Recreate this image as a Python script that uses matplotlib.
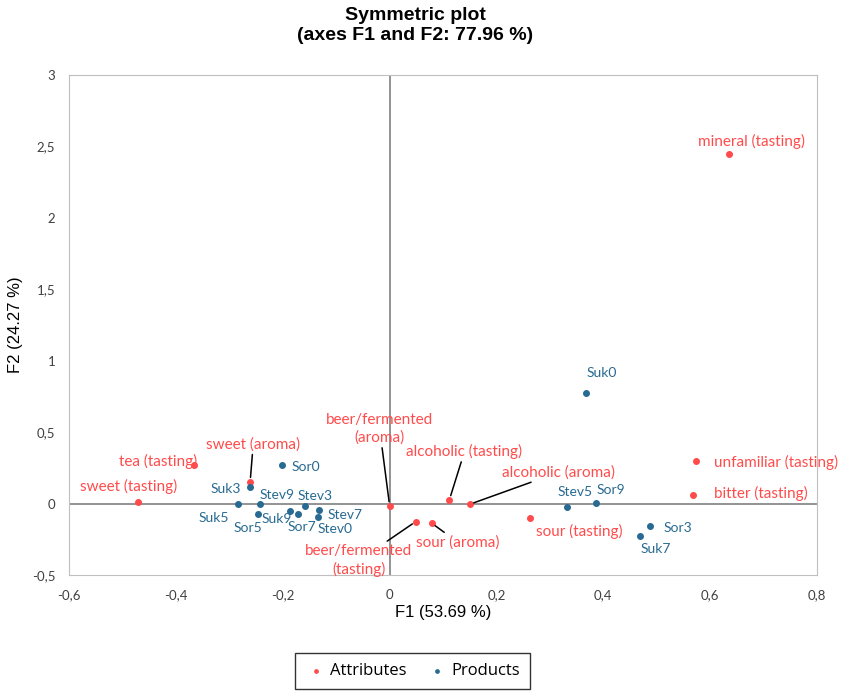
import matplotlib.pyplot as plt

# Attributes (red)
attr_names = [
    "mineral (tasting)", "unfamiliar (tasting)", "bitter (tasting)",
    "sweet (tasting)", "tea (tasting)", "sweet (aroma)",
    "beer/fermented\n(aroma)", "beer/fermented\n(tasting)", "sour (aroma)",
    "alcoholic (tasting)", "alcoholic (aroma)", "sour (tasting)",
]
attr_f1 = [0.636, 0.574, 0.568, -0.471, -0.366, -0.261,
           0.000, 0.049, 0.079, 0.112, 0.150, 0.263]
attr_f2 = [2.447, 0.300, 0.063, 0.010, 0.267, 0.154,
           -0.016, -0.126, -0.138, 0.028, -0.005, -0.103]

# Products (blue)
prod_names = ["Suk0", "Stev5", "Sor9", "Sor3", "Suk7", "Sor0", "Suk3", "Suk5",
              "Stev9", "Sor5", "Suk9", "Sor7", "Stev3", "Stev7", "Stev0"]
prod_f1 = [0.368, 0.332, 0.386, 0.488, 0.469, -0.201, -0.261, -0.284,
           -0.243, -0.246, -0.186, -0.171, -0.159, -0.132, -0.134]
prod_f2 = [0.774, -0.026, 0.005, -0.159, -0.229, 0.267, 0.119, -0.005,
           -0.005, -0.072, -0.049, -0.072, -0.016, -0.044, -0.093]

x_ticks = [-0.6, -0.4, -0.2, 0, 0.2, 0.4, 0.6, 0.8]
y_ticks = [-0.5, 0, 0.5, 1, 1.5, 2, 2.5, 3]

# label placement: offset of the label centre from its point, in pixels,
# and whether a leader line is drawn
attr_offsets = [(22, 13), (80, -2), (68, 1), (-9, 16), (-36, 4), (3, 37),
                (-10, 77), (-57, -39), (26, -19), (15, 48), (89, 32), (49, -13)]
attr_leader = [False, False, False, False, False, True,
               True, True, True, True, True, False]
prod_offsets = [(15, 20), (8, 15), (15, 13), (27, -2), (16, -13), (24, -2),
                (-24, -2), (-24, -14), (17, 9), (-10, -14), (-14, -8),
                (4, -13), (10, 10), (26, -5), (17, -12)]

RED = "#FF4B4B"
BLUE = "#286A92"
LABEL_FONT = "Lato"

fig = plt.figure(figsize=(8.44, 6.91), dpi=100)
ax = fig.add_axes([0.0818, 0.1679, 0.8863, 0.7236])

ax.axhline(0, color="#808080", lw=1.2, zorder=1)
ax.axvline(0, color="#808080", lw=1.2, zorder=1)

ax.scatter(attr_f1, attr_f2, s=16, color=RED, zorder=3, label="Attributes")
ax.scatter(prod_f1, prod_f2, s=16, color=BLUE, zorder=3, label="Products")

for name, x, y, off, lead in zip(attr_names, attr_f1, attr_f2, attr_offsets, attr_leader):
    props = dict(arrowstyle="-", color="black", lw=1.1, shrinkA=0, shrinkB=3) if lead else None
    ax.annotate(name, (x, y), xytext=off, textcoords="offset pixels",
                ha="center", va="center", color=RED, fontsize=11,
                family=LABEL_FONT, linespacing=1.35, arrowprops=props, zorder=4)

for name, x, y, off in zip(prod_names, prod_f1, prod_f2, prod_offsets):
    ax.annotate(name, (x, y), xytext=off, textcoords="offset pixels",
                ha="center", va="center", color=BLUE, fontsize=10,
                family=LABEL_FONT, zorder=4)

ax.set_xlim(-0.6, 0.8)
ax.set_ylim(-0.5, 3)
ax.set_xticks(x_ticks)
ax.set_yticks(y_ticks)
fmt = lambda v: f"{v:g}".replace(".", ",")
ax.set_xticklabels([fmt(v) for v in x_ticks])
ax.set_yticklabels([fmt(v) for v in y_ticks])
ax.tick_params(length=0, labelsize=9.5, labelcolor="#404040", pad=10)
for lab in ax.get_xticklabels() + ax.get_yticklabels():
    lab.set_family(LABEL_FONT)
for sp in ax.spines.values():
    sp.set_color("#BFBFBF")

ax.set_xlabel("F1 (53.69 %)", fontsize=12, family="Liberation Sans", labelpad=3)
ax.set_ylabel("F2 (24.27 %)", fontsize=12, family="Liberation Sans", labelpad=6)

fig.suptitle("Symmetric plot\n(axes F1 and F2: 77.96 %)", x=0.492, y=0.99,
             fontsize=14, fontweight="bold", family="Liberation Sans")

leg = fig.legend(loc="center", bbox_to_anchor=(0.489, 0.029), ncol=2,
                 frameon=True, fancybox=False, edgecolor="black",
                 markerscale=0.6, handlelength=1.3, handletextpad=0.2,
                 columnspacing=1.2, borderpad=0.6,
                 prop={"family": "Open Sans", "size": 12})
leg.get_frame().set_linewidth(1.0)

fig.savefig("out.png", dpi=100)
